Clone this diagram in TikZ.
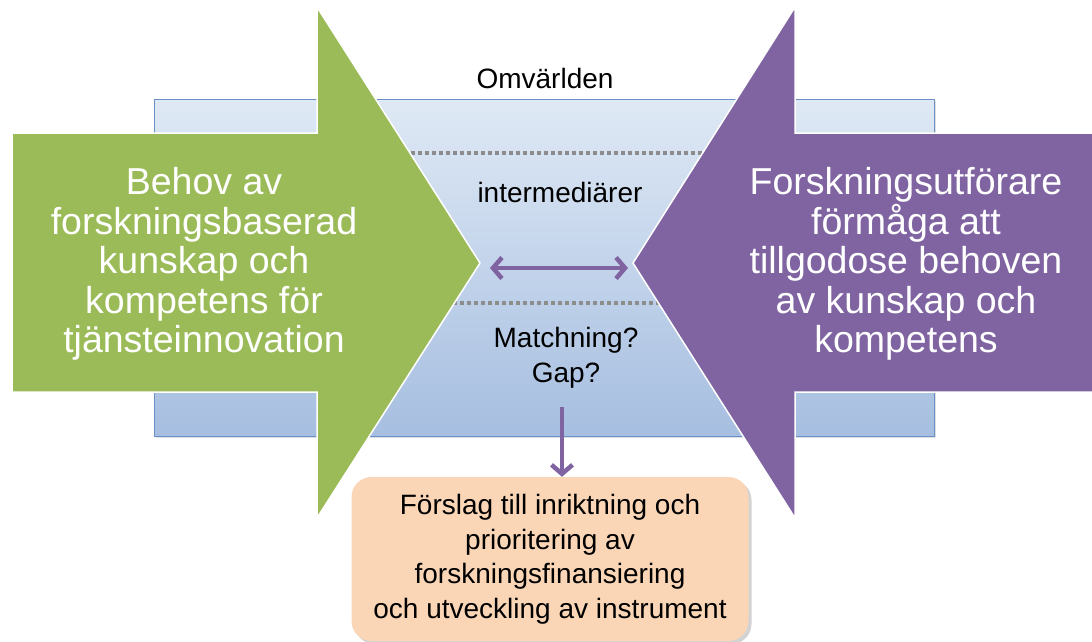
\documentclass[tikz,border=0pt]{standalone}
\usepackage{fontspec}
\setmainfont{Liberation Sans}
\usetikzlibrary{arrows.meta,shadows}
\definecolor{needgreen}{RGB}{155,187,89}
\definecolor{doerpurple}{RGB}{128,100,162}
\definecolor{worldtop}{RGB}{223,233,245}
\definecolor{worldbottom}{RGB}{166,190,224}
\definecolor{worldedge}{RGB}{105,145,198}
\definecolor{planorange}{RGB}{250,214,182}
\definecolor{dotgray}{RGB}{140,140,140}

\begin{document}
\begin{tikzpicture}[x=1pt,y=-1pt,
  bigtext/.style={text=white,align=center,inner sep=0pt,font=\fontsize{37.5}{39.5}\selectfont},
  smalltext/.style={align=center,inner sep=0pt,font=\fontsize{28}{35}\selectfont},
  link/.style={draw=doerpurple,line width=4.5pt,-{Straight Barb[length=9pt,width=21pt]}},
  gapline/.style={dotgray,line width=3.5pt,dash pattern=on 4pt off 3pt}]
\useasboundingbox (0,0) rectangle (1092,641);
\clip (0,0) rectangle (1092,641);

% surroundings
\draw[worldedge,line width=1pt,top color=worldtop,bottom color=worldbottom,
  drop shadow={opacity=0.25,shadow xshift=2pt,shadow yshift=-2pt}] (154,99) rectangle (934,436);
\draw[gapline] (390,153) -- (710,153);
\draw[gapline] (390,303) -- (710,303);

% big arrows
\draw[fill=needgreen,draw=white,line width=1.5pt] (12,133) -- (317,133) -- (317,7) -- (480,263)
  -- (317,518) -- (317,392) -- (12,392) -- cycle;
\draw[fill=doerpurple,draw=white,line width=1.5pt] (1100,133) -- (795,133) -- (795,7) -- (633,263)
  -- (795,518) -- (795,392) -- (1100,392) -- cycle;
\node[bigtext] (need) at (204,264) {Behov av\\forskningsbaserad\\kunskap och\\kompetens för\\tjänsteinnovation};
\node[bigtext] (doer) at (906,264) {Forskningsutförare\\förmåga att\\tillgodose behoven\\av kunskap och\\kompetens};

% middle texts
\node[smalltext,anchor=base] (world) at (545,88) {Omvärlden};
\node[smalltext,anchor=base] (inter) at (560,202) {intermediärer};
\node[smalltext] (match) at (566,358) {Matchning?\\Gap?};

% proposal
\node[smalltext,fill=planorange,rounded corners=20pt,minimum width=397pt,minimum height=164pt,
  font=\fontsize{28}{34.5}\selectfont,
  drop shadow={opacity=0.35,shadow xshift=3pt,shadow yshift=-3pt}] (plan) at (550,559)
  {Förslag till inriktning och\\prioritering av\\forskningsfinansiering\\och utveckling av instrument};

% arrows
\coordinate (lefttip) at (490,268);
\coordinate (righttip) at (628,268);
\draw[link,{Straight Barb[length=9pt,width=21pt]}-{Straight Barb[length=9pt,width=21pt]}] (lefttip) -- (righttip);
\coordinate (drop) at (562,407);
\draw[link] (drop) -- (drop |- plan.north);
\end{tikzpicture}
\end{document}
